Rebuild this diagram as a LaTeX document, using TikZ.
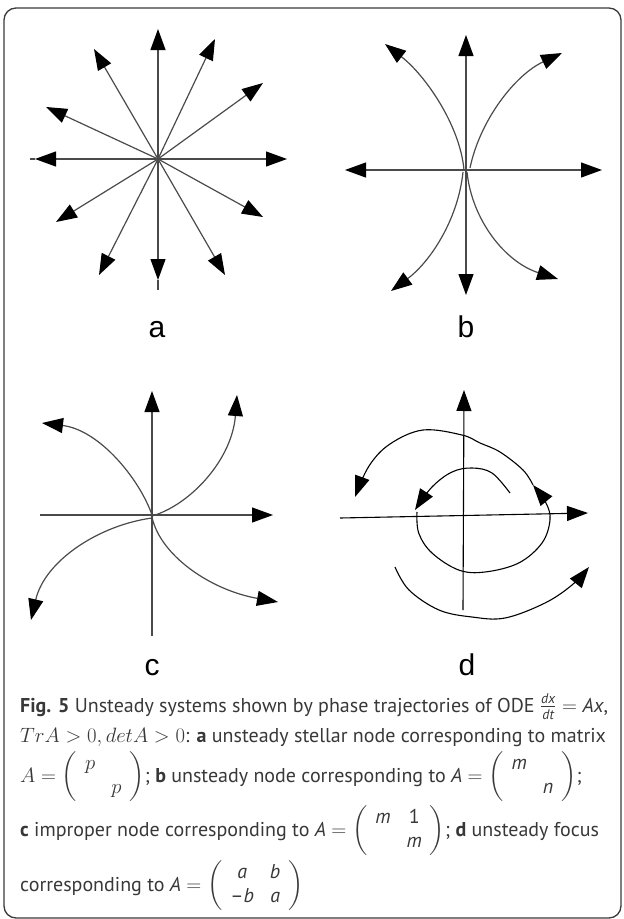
\documentclass[tikz,border=0pt]{standalone}
\usepackage{amsmath}
\usepackage[no-math]{fontspec}
\setmainfont{PT Sans}
\newfontfamily\labfont{Liberation Sans}
\usetikzlibrary{arrows.meta}
\definecolor{linegray}{HTML}{4A4A4A}
\definecolor{captext}{HTML}{383838}
\definecolor{framecol}{HTML}{3A3A3A}
\newcommand{\mymat}[4]{\left(\arraycolsep=8pt\renewcommand{\arraystretch}{1.0}\begin{array}{cc}#1&#2\\#3&#4\end{array}\right)}
\begin{document}
\begin{tikzpicture}[x=1pt,y=-1pt,
  tipT/.tip={Triangle[length=21pt,width=15pt,color=black]},
  ln/.style={draw=linegray,line width=1.2pt},
  ar/.style={ln,-tipT},
  arb/.style={ln,tipT-tipT},
  sp/.style={draw=black,line width=1.1pt,-tipT},
  lab/.style={font=\labfont\fontsize{30pt}{34pt}\selectfont,anchor=base,inner sep=0pt},
  capline/.style={font=\fontsize{20pt}{24pt}\selectfont,text=captext,anchor=base west,inner sep=0pt},
  framest/.style={draw=framecol,line width=1.3pt,rounded corners=12pt}]
\useasboundingbox (0,0) rectangle (624,919);
\draw[framest] (4,8) rectangle (621,918);

% ---------- panel a ----------
\coordinate (ao) at (158,159);
\coordinate (a7e) at (158,290);
\coordinate (a10e) at (30,159);
\foreach \n/\x/\y in {1/158/29, 2/215/39, 3/263/83, 4/287/159, 5/263/217, 6/225/275, 7/158/280, 8/99/275, 9/56/222, 10/35/159, 11/46/107, 12/94/49}{
  \coordinate (a\n) at (\x,\y);
}
\draw[ln] (a7) -- (a7e);
\draw[ln] (a10) -- (a10e);
\foreach \n in {1,...,12}{\draw[ar] (ao) -- (a\n);}
\node[lab] (la) at (157,337) {a};

% ---------- panel b ----------
\coordinate (bo) at (466,170);
\coordinate (bl) at (345,170);
\coordinate (br) at (602,170);
\coordinate (bt) at (466,35);
\coordinate (bb) at (466,295);
\draw[arb] (bl) -- (br);
\draw[arb] (bt) -- (bb);
\coordinate (bul) at (385,44);
\coordinate (bur) at (562,53);
\coordinate (bll) at (391,291);
\coordinate (blr) at (558,279);
\draw[ar] (464,170) .. controls (460,125) and (425,75) .. (bul);
\draw[ar] (470,168) .. controls (480,120) and (515,75) .. (bur);
\draw[ar] (463,172) .. controls (458,220) and (430,262) .. (bll);
\draw[ar] (467,172) .. controls (472,220) and (505,262) .. (blr);
\node[lab] (lb) at (466,337) {b};

% ---------- panel c ----------
\coordinate (co) at (152,515);
\coordinate (cl) at (40,515);
\coordinate (cr) at (273,515);
\coordinate (cb) at (152,636);
\coordinate (ct) at (152,391);
\draw[ar] (cl) -- (cr);
\draw[ar] (cb) -- (ct);
\coordinate (cul) at (42,423);
\coordinate (cur) at (237,395);
\coordinate (cll) at (31,620);
\coordinate (clr) at (278,602);
\draw[ar] (co) .. controls (140,480) and (100,430) .. (cul);
\draw[ar] (152,517) .. controls (160,555) and (210,590) .. (clr);
\draw[ar] (152,516) .. controls (190,505) and (232,460) .. (cur);
\draw[ar] (152,518) .. controls (100,525) and (45,560) .. (cll);
\node[lab] (lc) at (152,675) {c};

% ---------- panel d ----------
\coordinate (dl) at (340,518);
\coordinate (dr) at (588,513);
\coordinate (db) at (463,610);
\coordinate (dt) at (464,390);
\draw[sp] (dl) -- (dr);
\draw[sp] (db) -- (dt);
\coordinate (d1) at (415,510);
\coordinate (d2) at (533,485);
\coordinate (d3) at (355,497);
\coordinate (d4) at (589,567);
\draw[sp] plot[smooth,tension=0.6] coordinates {(510,493) (492,473) (472,468) (452,472) (432,487) (d1)};
\draw[sp] plot[smooth,tension=0.6] coordinates {(417,512) (418.7,533) (432,553) (458.7,570) (485,572) (518.7,563) (542,543) (550,520) (546,503) (d2)};
\draw[sp] plot[smooth,tension=0.6] coordinates {(533,485) (523,470) (500,452) (480,443) (462,435) (423,430) (390,444) (369,466) (d3)};
\draw[sp] plot[smooth,tension=0.6] coordinates {(395,567) (409,590) (439,610) (472,617) (505,618) (545,603) (572,585) (d4)};
\node[lab] (ld) at (467,675) {d};

% ---------- caption ----------
\node[capline] (l1) at (20,712) {\textbf{Fig. 5} Unsteady systems shown by phase trajectories of ODE $\frac{\textit{dx}}{\textit{dt}}=\textit{Ax}$,};
\node[capline] (l2) at (20,742) {$TrA>0, detA>0$: \textbf{a} unsteady stellar node corresponding to matrix};
\node[capline] (l3) at (20,782) {$A=\mymat{p}{}{}{p}$; \textbf{b} unsteady node corresponding to \textit{A} $=\mymat{\textit{m}}{}{}{\textit{n}}$;};
\node[capline] (l4) at (20,836) {\textbf{c} improper node corresponding to \textit{A} $=\mymat{\textit{m}}{\text{1}}{}{\textit{m}}$; \textbf{d} unsteady focus};
\node[capline] (l5) at (20,891) {corresponding to \textit{A} $=\mymat{\textit{a}}{\textit{b}}{\text{–}\textit{b}}{\textit{a}}$};
\end{tikzpicture}
\end{document}
